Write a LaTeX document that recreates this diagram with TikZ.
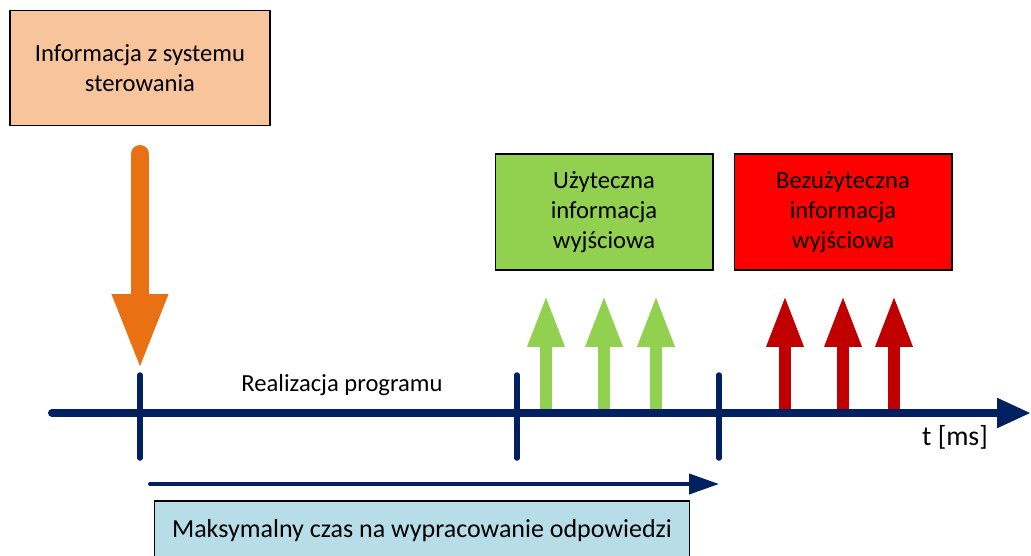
\documentclass[tikz,border=0pt]{standalone}
\usepackage{fontspec}
\setmainfont{Carlito}
\usetikzlibrary{arrows.meta,positioning}

\definecolor{peach}{HTML}{F8C49C}
\definecolor{inorange}{HTML}{E97113}
\definecolor{navy}{HTML}{002060}
\definecolor{okgreen}{HTML}{92D050}
\definecolor{badred}{HTML}{FF0000}
\definecolor{darkred}{HTML}{C00000}
\definecolor{paleblue}{HTML}{B7DEE8}

\begin{document}
\begin{tikzpicture}[x=0.02cm,y=-0.02cm,
		every node/.style={font=\fontsize{14}{17}\selectfont,text=black},
		box/.style={draw=black,line width=0.6pt,align=center,inner sep=0pt,
			minimum width=4.36cm,minimum height=2.32cm},
		timeline/.style={draw=navy,line width=0.16cm,line cap=round,
			-{Triangle[length=0.68cm,width=0.56cm]}},
		tickmark/.style={draw=navy,line width=0.11cm,line cap=round},
		outarrow/.style={line width=0.24cm,-{Triangle[length=1.04cm,width=0.68cm]}}]
	\clip (0,0) rectangle (1031,555);
	\fill[white] (0,0) rectangle (1031,555);

	\node[box,fill=peach,minimum width=5.2cm,minimum height=2.3cm] (ster) at (140,68) {Informacja z systemu\\sterowania};
	\node[box,fill=okgreen] (useful) at (604,212) {Użyteczna\\informacja\\wyjściowa};
	\node[box,fill=badred] (useless) at (843,212) {Bezużyteczna\\informacja\\wyjściowa};
	\node[box,fill=paleblue,minimum width=10.72cm,minimum height=1.2cm,font=\fontsize{14.8}{17}\selectfont] (maxtime) at (422,531) {Maksymalny czas na wypracowanie odpowiedzi};

	\node (prog) at (342,385) {Realizacja programu};
	\node[font=\fontsize{15.8}{18}\selectfont] (tms) at (955,437) {t [ms]};

	% input from the control system
	\coordinate (ina) at (140,154);
	\coordinate (inb) at (140,370);
	\draw[inorange,line width=0.36cm,line cap=round,-{Triangle[length=1.52cm,width=1.02cm]}] (ina) -- (inb);

	% output arrows
	\foreach \x [count=\i] in {546,604,656} {
		\coordinate (ga\i) at (\x,416);
		\coordinate (gb\i) at (\x,295);
		\draw[outarrow,okgreen] (ga\i) -- (gb\i);
	}
	\foreach \x [count=\i] in {785,843,894} {
		\coordinate (ra\i) at (\x,416);
		\coordinate (rb\i) at (\x,295);
		\draw[outarrow,darkred] (ra\i) -- (rb\i);
	}

	% time axis
	\coordinate (t0) at (52,413);
	\coordinate (t1) at (1031,413);
	\draw[timeline] (t0) -- (t1);
	\foreach \x [count=\i] in {140,517,719} {
		\coordinate (ka\i) at (\x,375);
		\coordinate (kb\i) at (\x,458);
		\draw[tickmark] (ka\i) -- (kb\i);
	}

	% maximum response time
	\coordinate (ma) at (150,484);
	\coordinate (mb) at (719,484);
	\draw[navy,line width=0.08cm,line cap=round,-{Triangle[length=0.6cm,width=0.4cm]}] (ma) -- (mb);
\end{tikzpicture}
\end{document}
